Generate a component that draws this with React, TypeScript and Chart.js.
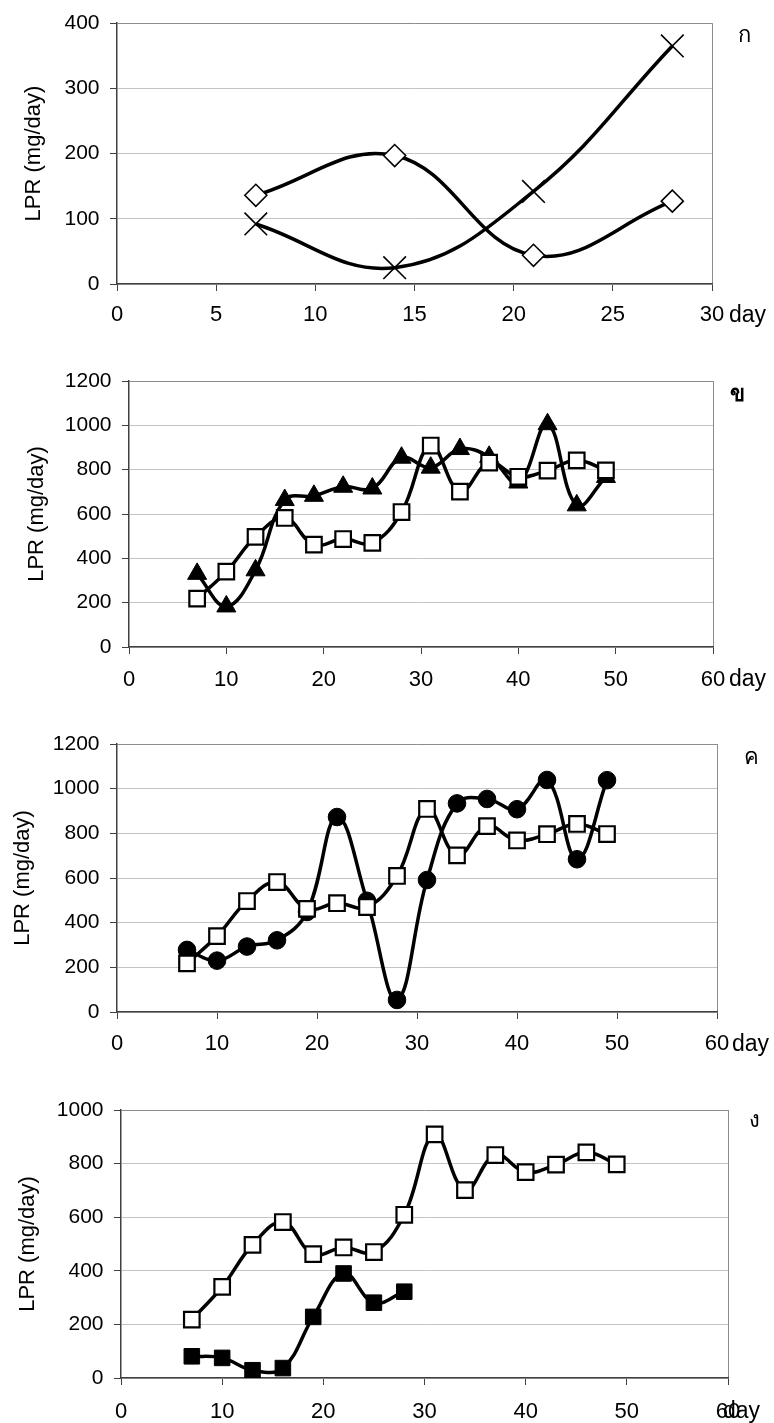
import React, { useEffect, useRef } from "react";
import { Chart, registerables } from "chart.js";

Chart.register(...registerables);

// ---------- data ----------
const DAYS_A = [7, 14, 21, 28];
const A_DIAMOND = [136, 197, 44, 127];
const A_CROSS = [92, 25, 142, 365];

const DAYS = [7, 10, 13, 16, 19, 22, 25, 28, 31, 34, 37, 40, 43, 46, 49];
const CONTROL = [218, 340, 497, 582, 462, 487, 470, 609, 909, 701, 832, 768, 796, 842, 797];
const B_TRIANGLE = [330, 183, 346, 663, 682, 723, 715, 854, 809, 893, 858, 742, 1005, 639, 767];
const C_CIRCLE = [278, 230, 293, 321, 448, 873, 498, 54, 591, 934, 954, 908, 1039, 684, 1038];

const DAYS_D = [7, 10, 13, 16, 19, 22, 25, 28];
const D_FILLED = [81, 75, 29, 37, 228, 390, 281, 322];

const PANEL_LABELS = ["ก", "ข", "ค", "ง"];
const Y_TITLE = "LPR (mg/day)";
const X_UNIT = "day";

const FONT = "'Liberation Sans', Arial, Helvetica, sans-serif";

const pts = (xs: number[], ys: number[]) => xs.map((x, i) => ({ x, y: ys[i] }));

type Area = { L: number; T: number; R: number; B: number };

type PanelSpec = {
  top: number;
  height: number;
  area: Area;
  xMax: number;
  xStep: number;
  yMax: number;
  yStep: number;
  titleCenter: number;
  xLabelGap: number;
  datasets: any[];
};

const lineBase = {
  borderColor: "#000",
  borderWidth: 3.5,
  tension: 0.4,
  fill: false,
  pointBorderColor: "#000",
};

const openSquare = (data: any[]) => ({
  ...lineBase,
  data,
  pointStyle: "rect",
  pointRadius: 11,
  pointBackgroundColor: "#fff",
  pointBorderWidth: 2.2,
});

const PANELS: PanelSpec[] = [
  {
    top: 0,
    height: 345,
    area: { L: 117, T: 22, R: 712, B: 284 },
    xMax: 30,
    xStep: 5,
    yMax: 400,
    yStep: 100,
    titleCenter: 34,
    xLabelGap: 18,
    datasets: [
      {
        ...lineBase,
        data: pts(DAYS_A, A_DIAMOND),
        pointStyle: "rectRot",
        pointRadius: 11,
        pointBackgroundColor: "#fff",
        pointBorderWidth: 1.6,
      },
      {
        ...lineBase,
        data: pts(DAYS_A, A_CROSS),
        pointStyle: "crossRot",
        pointRadius: 16,
        pointBackgroundColor: "#000",
        pointBorderWidth: 1.6,
      },
    ],
  },
  {
    top: 345,
    height: 365,
    area: { L: 129, T: 381, R: 713, B: 647 },
    xMax: 60,
    xStep: 10,
    yMax: 1200,
    yStep: 200,
    titleCenter: 37,
    xLabelGap: 20,
    datasets: [
      openSquare(pts(DAYS, CONTROL)),
      {
        ...lineBase,
        data: pts(DAYS, B_TRIANGLE),
        pointStyle: "triangle",
        pointRadius: 11,
        pointBackgroundColor: "#000",
        pointBorderWidth: 1,
      },
    ],
  },
  {
    top: 710,
    height: 365,
    area: { L: 117, T: 744, R: 717, B: 1012 },
    xMax: 60,
    xStep: 10,
    yMax: 1200,
    yStep: 200,
    titleCenter: 23,
    xLabelGap: 19,
    datasets: [
      openSquare(pts(DAYS, CONTROL)),
      {
        ...lineBase,
        data: pts(DAYS, C_CIRCLE),
        pointStyle: "circle",
        pointRadius: 8.8,
        pointBackgroundColor: "#000",
        pointBorderWidth: 1,
      },
    ],
  },
  {
    top: 1075,
    height: 348,
    area: { L: 121, T: 1110, R: 728, B: 1378 },
    xMax: 60,
    xStep: 10,
    yMax: 1000,
    yStep: 200,
    titleCenter: 27.5,
    xLabelGap: 21,
    datasets: [
      openSquare(pts(DAYS, CONTROL)),
      {
        ...lineBase,
        data: pts(DAYS_D, D_FILLED),
        pointStyle: "rect",
        pointRadius: 11,
        pointBackgroundColor: "#000",
        pointBorderWidth: 1,
      },
    ],
  },
];

const TICK_FONT_Y = 21;
const TICK_FONT_X = 22;
const TITLE_FONT = 22;
const TICK_LEN = 7;

function makeConfig(p: PanelSpec): any {
  const { area } = p;
  const Wy = area.L;
  const Hx = p.top + p.height - area.B;
  const titleLH = TITLE_FONT * 1.2;
  return {
    type: "line",
    data: { datasets: p.datasets },
    options: {
      animation: false,
      responsive: false,
      maintainAspectRatio: false,
      events: [],
      layout: {
        padding: { left: 0, top: area.T - p.top, right: 774 - area.R, bottom: 0 },
      },
      plugins: { legend: { display: false }, tooltip: { enabled: false } },
      scales: {
        x: {
          type: "linear",
          min: 0,
          max: p.xMax,
          afterFit: (s: any) => {
            s.height = Hx;
          },
          ticks: {
            stepSize: p.xStep,
            color: "#000",
            padding: p.xLabelGap - TICK_LEN,
            maxRotation: 0,
            callback: (v: any) => String(v),
            font: { family: FONT, size: TICK_FONT_X },
          },
          grid: {
            lineWidth: 1,
            tickLength: TICK_LEN,
            color: (c: any) => (c.tick && c.tick.value === p.xMax ? "#8c8c8c" : "rgba(0,0,0,0)"),
            tickColor: "#404040",
          },
          border: { display: true, color: "#404040", width: 1.5 },
        },
        y: {
          type: "linear",
          min: 0,
          max: p.yMax,
          afterFit: (s: any) => {
            s.width = Wy;
          },
          ticks: {
            stepSize: p.yStep,
            color: "#000",
            padding: 10.5,
            callback: (v: any) => String(v),
            font: { family: FONT, size: TICK_FONT_Y },
          },
          grid: {
            lineWidth: 1,
            tickLength: TICK_LEN,
            color: (c: any) =>
              c.tick && c.tick.value === p.yMax ? "#8c8c8c" : "#c4c4c4",
            tickColor: "#404040",
          },
          border: { display: true, color: "#404040", width: 1.5 },
          title: {
            display: true,
            text: Y_TITLE,
            color: "#000",
            font: { family: FONT, size: TITLE_FONT },
            padding: { top: p.titleCenter - titleLH / 2, bottom: 0 },
          },
        },
      },
    },
  };
}

function Panel({ spec }: { spec: PanelSpec }) {
  const ref = useRef<HTMLCanvasElement | null>(null);
  useEffect(() => {
    if (!ref.current) return;
    const chart = new Chart(ref.current, makeConfig(spec));
    return () => chart.destroy();
  }, [spec]);
  return (
    <canvas
      ref={ref}
      width={774}
      height={spec.height}
      style={{ position: "absolute", left: 0, top: spec.top, width: 774, height: spec.height, display: "block" }}
    />
  );
}

const DAY_POS = [
  { left: 729, cy: 316 },
  { left: 729, cy: 680 },
  { left: 732, cy: 1045 },
  { left: 723, cy: 1412 },
];
const LETTER_POS = [
  { cx: 744, cy: 33 },
  { cx: 737, cy: 392 },
  { cx: 751, cy: 755 },
  { cx: 754, cy: 1118 },
];

export default function App() {
  const dayFont = 23;
  return (
    <div
      style={{
        position: "absolute",
        left: 0,
        top: 0,
        width: 774,
        height: 1423,
        background: "#fff",
        overflow: "hidden",
        fontFamily: FONT,
      }}
    >
      {PANELS.map((p, i) => (
        <Panel key={i} spec={p} />
      ))}
      {DAY_POS.map((d, i) => (
        <div
          key={"d" + i}
          style={{
            position: "absolute",
            left: d.left,
            top: d.cy - 0.586 * dayFont,
            fontSize: dayFont,
            lineHeight: 1,
            color: "#000",
            whiteSpace: "nowrap",
          }}
        >
          {X_UNIT}
        </div>
      ))}
      {LETTER_POS.map((d, i) => (
        <div
          key={"l" + i}
          style={{
            position: "absolute",
            left: d.cx,
            top: d.cy,
            transform: "translate(-50%, -50%)",
            fontSize: 22,
            lineHeight: 1,
            color: "#000",
            fontWeight: i === 1 ? 700 : 400,
            fontFamily: "'Noto Sans', 'DejaVu Sans', sans-serif",
          }}
        >
          {PANEL_LABELS[i]}
        </div>
      ))}
    </div>
  );
}
